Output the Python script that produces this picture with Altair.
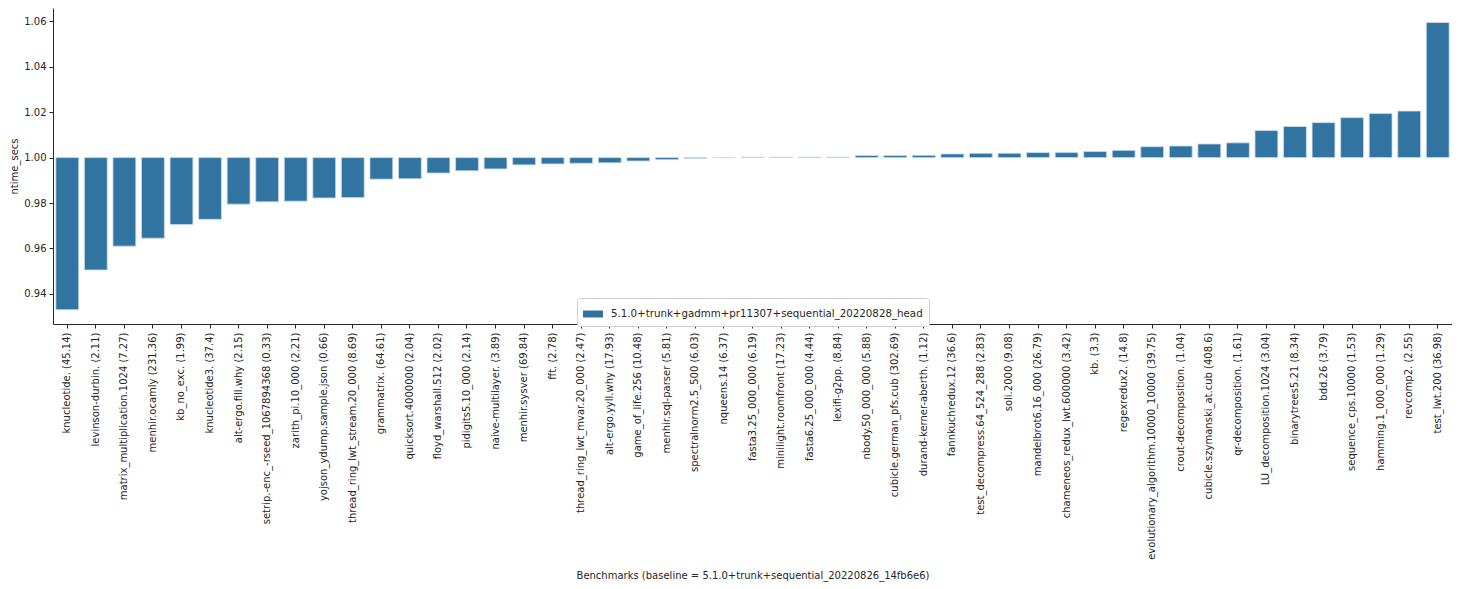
import altair as alt
import pandas as pd

benchmarks = [
    "knucleotide. (45.14)", "levinson-durbin. (2.11)", "matrix_multiplication.1024 (7.27)",
    "menhir.ocamly (231.36)", "kb_no_exc. (1.99)", "knucleotide3. (37.4)",
    "alt-ergo.fill.why (2.15)", "setrip.-enc_-rseed_1067894368 (0.33)", "zarith_pi.10_000 (2.21)",
    "yojson_ydump.sample.json (0.66)", "thread_ring_lwt_stream.20_000 (8.69)", "grammatrix. (64.61)",
    "quicksort.4000000 (2.04)", "floyd_warshall.512 (2.02)", "pidigits5.10_000 (2.14)",
    "naive-multilayer. (3.89)", "menhir.sysver (69.84)", "fft. (2.78)",
    "thread_ring_lwt_mvar.20_000 (2.47)", "alt-ergo.yyll.why (17.93)", "game_of_life.256 (10.48)",
    "menhir.sql-parser (5.81)", "spectralnorm2.5_500 (6.03)", "nqueens.14 (6.37)",
    "fasta3.25_000_000 (6.19)", "minilight.roomfront (17.23)", "fasta6.25_000_000 (4.44)",
    "lexifi-g2pp. (8.84)", "nbody.50_000_000 (5.88)", "cubicle.german_pfs.cub (302.69)",
    "durand-kerner-aberth. (1.12)", "fannkuchredux.12 (36.6)", "test_decompress.64_524_288 (2.83)",
    "soli.2000 (9.08)", "mandelbrot6.16_000 (26.79)", "chameneos_redux_lwt.600000 (3.42)",
    "kb. (3.3)", "regexredux2. (14.8)", "evolutionary_algorithm.10000_10000 (39.75)",
    "crout-decomposition. (1.04)", "cubicle.szymanski_at.cub (408.6)", "qr-decomposition. (1.61)",
    "LU_decomposition.1024 (3.04)", "binarytrees5.21 (8.34)", "bdd.26 (3.79)",
    "sequence_cps.10000 (1.53)", "hamming.1_000_000 (1.29)", "revcomp2. (2.55)",
    "test_lwt.200 (36.98)",
]

ntime_secs = [
    0.9330, 0.9505, 0.9610, 0.9645, 0.9705, 0.9728,
    0.9795, 0.9805, 0.9808, 0.9822, 0.9824, 0.9905,
    0.9907, 0.9932, 0.9942, 0.9950, 0.9968, 0.9972,
    0.9975, 0.9977, 0.9985, 0.9991, 0.9996, 1.0000,
    1.0002, 1.0002, 1.0002, 1.0002, 1.0009, 1.0009,
    1.0010, 1.0016, 1.0019, 1.0019, 1.0022, 1.0022,
    1.0027, 1.0032, 1.0048, 1.0051, 1.0060, 1.0065,
    1.0119, 1.0137, 1.0154, 1.0176, 1.0194, 1.0205,
    1.0595,
]

series_name = "5.1.0+trunk+gadmm+pr11307+sequential_20220828_head"
y_ticks = [0.94, 0.96, 0.98, 1.00, 1.02, 1.04, 1.06]
x_title = "Benchmarks (baseline = 5.1.0+trunk+sequential_20220826_14fb6e6)"

df = pd.DataFrame({"benchmark": benchmarks, "ntime_secs": ntime_secs, "variant": series_name})

FONT = "DejaVu Sans"
TXT = "#262626"

bars = alt.Chart(df).mark_bar(stroke="#c9dae8", strokeWidth=0.8).encode(
    x=alt.X(
        "benchmark:N",
        sort=None,
        scale=alt.Scale(paddingInner=0.2, paddingOuter=0.1),
        axis=alt.Axis(
            title=x_title,
            labelAngle=-90,
            labelFontSize=10,
            labelFont=FONT,
            labelColor=TXT,
            labelLimit=400,
            labelPadding=4,
            tickSize=4,
            tickColor=TXT,
            domainColor=TXT,
            titleFont=FONT,
            titleFontSize=10,
            titleFontWeight="normal",
            titleColor=TXT,
            titleY=246,
        ),
    ),
    y=alt.Y(
        "ntime_secs:Q",
        scale=alt.Scale(domain=[0.9267, 1.0659], nice=False, zero=False),
        axis=alt.Axis(
            title="ntime_secs",
            values=y_ticks,
            format=".2f",
            labelFontSize=10,
            labelFont=FONT,
            labelColor=TXT,
            labelPadding=3,
            tickSize=4,
            tickColor=TXT,
            domainColor=TXT,
            grid=False,
            titleFont=FONT,
            titleFontSize=10,
            titleFontWeight="normal",
            titleColor=TXT,
        ),
    ),
    y2=alt.datum(1.0),
    color=alt.Color(
        "variant:N",
        scale=alt.Scale(range=["#3274a1"]),
        legend=alt.Legend(
            title=None,
            orient="none",
            legendX=524,
            legendY=290,
            labelFont=FONT,
            labelFontSize=10.25,
            labelColor=TXT,
            labelLimit=600,
            labelOffset=8,
            symbolType="M-1,-0.35H1V0.35H-1Z",
            symbolSize=400,
            symbolStrokeWidth=0,
            symbolOpacity=1,
            strokeColor="#d0d0d0",
            fillColor="#ffffff",
            padding=6,
            cornerRadius=3,
        ),
    ),
)

chart = bars.properties(
    width=1399,
    height=316,
    background="white",
    padding={"left": 45, "top": 0, "right": 0, "bottom": 260},
    autosize=alt.AutoSizeParams(type="none"),
).configure_view(stroke=None)

chart.save("out.html", embed_options={"renderer": "svg", "actions": False})
